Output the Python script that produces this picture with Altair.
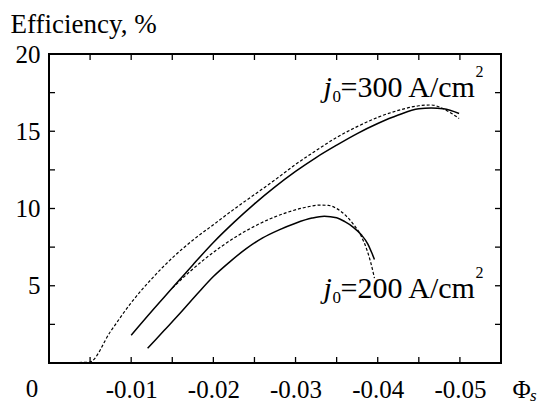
import altair as alt
import pandas as pd

# ---- data ----
x_300_solid = [-0.0100, -0.0125, -0.0150, -0.0175, -0.0200, -0.0225, -0.0250, -0.0275, -0.0300, -0.0325, -0.0350, -0.0375, -0.0400, -0.0425, -0.0450, -0.0465, -0.0480, -0.0499]
y_300_solid = [1.80, 3.35, 4.85, 6.35, 7.80, 9.10, 10.30, 11.40, 12.40, 13.30, 14.10, 14.85, 15.50, 16.05, 16.45, 16.50, 16.45, 16.15]

x_300_dash = [0.0, -0.0049, -0.0075, -0.0100, -0.0125, -0.0150, -0.0175, -0.0200, -0.0225, -0.0250, -0.0275, -0.0300, -0.0325, -0.0350, -0.0375, -0.0400, -0.0425, -0.0450, -0.0465, -0.0480, -0.0490, -0.0499]
y_300_dash = [0.0, 0.05, 2.05, 3.90, 5.45, 6.80, 7.95, 8.95, 9.95, 10.90, 11.85, 12.85, 13.75, 14.60, 15.30, 15.90, 16.35, 16.65, 16.70, 16.45, 16.15, 15.83]

x_200_solid = [-0.0120, -0.0140, -0.0160, -0.0180, -0.0200, -0.0220, -0.0240, -0.0260, -0.0280, -0.0300, -0.0320, -0.0335, -0.0350, -0.0360, -0.0370, -0.0380, -0.0388, -0.0393, -0.0396]
y_200_solid = [0.95, 2.10, 3.25, 4.45, 5.60, 6.55, 7.40, 8.10, 8.62, 9.05, 9.38, 9.50, 9.40, 9.15, 8.80, 8.30, 7.70, 7.10, 6.70]

x_200_dash = [-0.0150, -0.0170, -0.0190, -0.0210, -0.0230, -0.0250, -0.0270, -0.0290, -0.0310, -0.0330, -0.0340, -0.0350, -0.0360, -0.0370, -0.0380, -0.0387, -0.0392, -0.0396]
y_200_dash = [4.85, 5.85, 6.75, 7.55, 8.25, 8.85, 9.35, 9.75, 10.05, 10.22, 10.20, 10.00, 9.60, 9.00, 8.20, 7.30, 6.40, 5.50]

x_tick_labels = [-0.01, -0.02, -0.03, -0.04, -0.05]
x_minor = [-0.005, -0.01, -0.015, -0.02, -0.025, -0.03, -0.035, -0.04, -0.045, -0.05]
y_tick_labels = [5, 10, 15, 20]
y_minor = [2.5, 5, 7.5, 10, 12.5, 15, 17.5]

ann_x = [-0.0334, -0.0334]
ann_y = [17.22, 4.20]
ann_val = ["=300 A/cm", "=200 A/cm"]

# ---- build tables ----
rows = []
for name, xs, ys, style in [("300s", x_300_solid, y_300_solid, "solid"),
                            ("300d", x_300_dash, y_300_dash, "dash"),
                            ("200s", x_200_solid, y_200_solid, "solid"),
                            ("200d", x_200_dash, y_200_dash, "dash")]:
    for i, (a, b) in enumerate(zip(xs, ys)):
        rows.append(dict(phi=a, eff=b, curve=name, style=style, i=i))
df = pd.DataFrame(rows)
ann = pd.DataFrame(dict(phi=ann_x, eff=ann_y, txt=ann_val))
xt = pd.DataFrame(dict(phi=x_minor))
yt = pd.DataFrame(dict(eff=y_minor))

W, H = 452, 309
FONT = "Liberation Serif"

xscale = alt.Scale(domain=[-0.055, 0], reverse=True, nice=False, zero=False)
yscale = alt.Scale(domain=[0, 20], nice=False, zero=False)

xaxis = alt.Axis(values=x_tick_labels, labelExpr="'-' + format(-datum.value, '.2f')",
                 labelFont=FONT, labelFontSize=25, labelColor="black",
                 labelBaseline="alphabetic", labelPadding=34, labelFlush=False, labelOverlap=False,
                 ticks=False, domain=False, grid=False,
                 title="Φ", titleFont=FONT, titleFontSize=25, titleFontWeight="normal", titleColor="black",
                 titleX=463, titleY=34, titleAlign="left", titleBaseline="alphabetic")
yaxis = alt.Axis(values=y_tick_labels, labelFont=FONT, labelFontSize=25, labelColor="black",
                 labelPadding=9, labelFlush=False, labelOverlap=False,
                 ticks=False, domain=False, grid=False,
                 title="Efficiency, %", titleFont=FONT, titleFontSize=27, titleFontWeight="normal",
                 titleColor="black", titleAngle=0, titleX=-39, titleY=-22,
                 titleAlign="left", titleBaseline="alphabetic")

X = alt.X("phi:Q", scale=xscale, axis=xaxis)
Y = alt.Y("eff:Q", scale=yscale, axis=yaxis)

solid = alt.Chart(df[df["style"] == "solid"]).mark_line(
    color="black", strokeWidth=1.5, interpolate="monotone").encode(
    x=X, y=Y, detail="curve:N", order="i:Q")
dash = alt.Chart(df[df["style"] == "dash"]).mark_line(
    color="black", strokeWidth=1.2, strokeDash=[3, 2], interpolate="monotone").encode(
    x=X, y=Y, detail="curve:N", order="i:Q")

tick_style = dict(color="black", strokeWidth=1.3)
bt = alt.Chart(xt).mark_rule(**tick_style).encode(x=X, y=alt.value(H), y2=alt.value(H - 6))
tt = alt.Chart(xt).mark_rule(**tick_style).encode(x=X, y=alt.value(0), y2=alt.value(6))
lt = alt.Chart(yt).mark_rule(**tick_style).encode(y=Y, x=alt.value(0), x2=alt.value(6))
rt = alt.Chart(yt).mark_rule(**tick_style).encode(y=Y, x=alt.value(W), x2=alt.value(W - 6))

def piece(text, dx, dy, size, style="normal"):
    return alt.Chart(ann).mark_text(align="left", baseline="alphabetic", dx=dx, dy=dy,
                                    font=FONT, fontSize=size, fontStyle=style, color="black").encode(
        x=X, y=Y, text=text)

j_part = piece(alt.value("j"), 0, 0, 30, "italic")
sub_part = piece(alt.value("0"), 9, 5, 17)
main_part = piece("txt:N", 17, 0, 30)
sup_part = piece(alt.value("2"), 152, -20, 16)

zero_lbl = alt.Chart(pd.DataFrame(dict(phi=[0.0]))).mark_text(
    align="center", baseline="alphabetic", dx=-17, font=FONT, fontSize=25, color="black").encode(
    x=X, y=alt.value(H + 34), text=alt.value("0"))
s_lbl = alt.Chart(pd.DataFrame(dict(phi=[0.0]))).mark_text(
    align="left", baseline="alphabetic", font=FONT, fontSize=17, fontStyle="italic", color="black").encode(
    x=alt.value(W + 29), y=alt.value(H + 38), text=alt.value("s"))

chart = alt.layer(solid, dash, bt, tt, lt, rt, j_part, sub_part, main_part, sup_part, zero_lbl, s_lbl).properties(
    width=W, height=H, autosize=alt.AutoSizeParams(type="none"),
    padding={"left": 49, "top": 54, "right": 37, "bottom": 42},
    background="white"
).configure_view(stroke="black", strokeWidth=2)

chart.save("out.html", embed_options={"renderer": "svg", "actions": False})
